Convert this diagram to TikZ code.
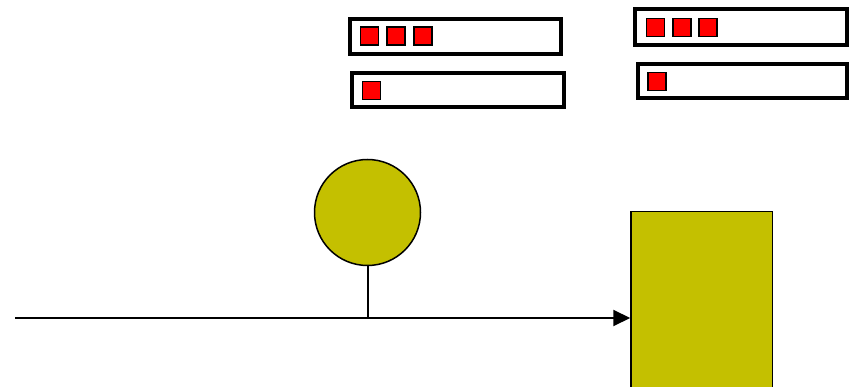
\documentclass[tikz,border=0pt]{standalone}
\usetikzlibrary{arrows.meta}
\definecolor{olive}{RGB}{196,192,0}
\begin{document}
\begin{tikzpicture}[x=1pt,y=-1pt,
  bar/.style={draw=black,line width=4pt,fill=white,rectangle,inner sep=0pt},
  sq/.style={draw=black,line width=1.5pt,fill=red,rectangle,inner sep=0pt,minimum size=18pt},
  ball/.style={draw=black,line width=1.5pt,fill=olive,circle,inner sep=0pt,minimum size=106pt},
  blk/.style={draw=black,line width=1.5pt,fill=olive,rectangle,inner sep=0pt},
  wire/.style={draw=black,line width=2pt}]
\useasboundingbox (0,0) rectangle (851,387);
\fill[white] (0,0) rectangle (851,387);
% boxes
\node[bar,minimum width=211pt,minimum height=35pt] (b1) at (455.5,36.5) {};
\node[bar,minimum width=211.7pt,minimum height=34.5pt] (b2) at (457.9,89.8) {};
\node[bar,minimum width=211.4pt,minimum height=35.4pt] (b3) at (741,27) {};
\node[bar,minimum width=209.2pt,minimum height=34.6pt] (b4) at (742.4,81) {};
% squares
\node[sq] (s11) at (369.5,36.2) {};
\node[sq] (s12) at (396.2,36.2) {};
\node[sq] (s13) at (422.8,36.2) {};
\node[sq] (s21) at (371.3,90.3) {};
\node[sq] (s31) at (655.3,27.3) {};
\node[sq] (s32) at (682,27.3) {};
\node[sq] (s33) at (708,27.3) {};
\node[sq] (s41) at (657,81.3) {};
% circle and block
\node[ball] (c) at (367.5,212.5) {};
\node[blk,minimum width=141.7pt,minimum height=208.3pt] (r) at (701.85,315.85) {};
\coordinate (start) at (15,318);
\draw[wire,-{Triangle[length=17pt,width=16pt]}] (start) -- (start -| r.west);
\draw[wire] (c.south) -- (c.south |- start);
\end{tikzpicture}
\end{document}
